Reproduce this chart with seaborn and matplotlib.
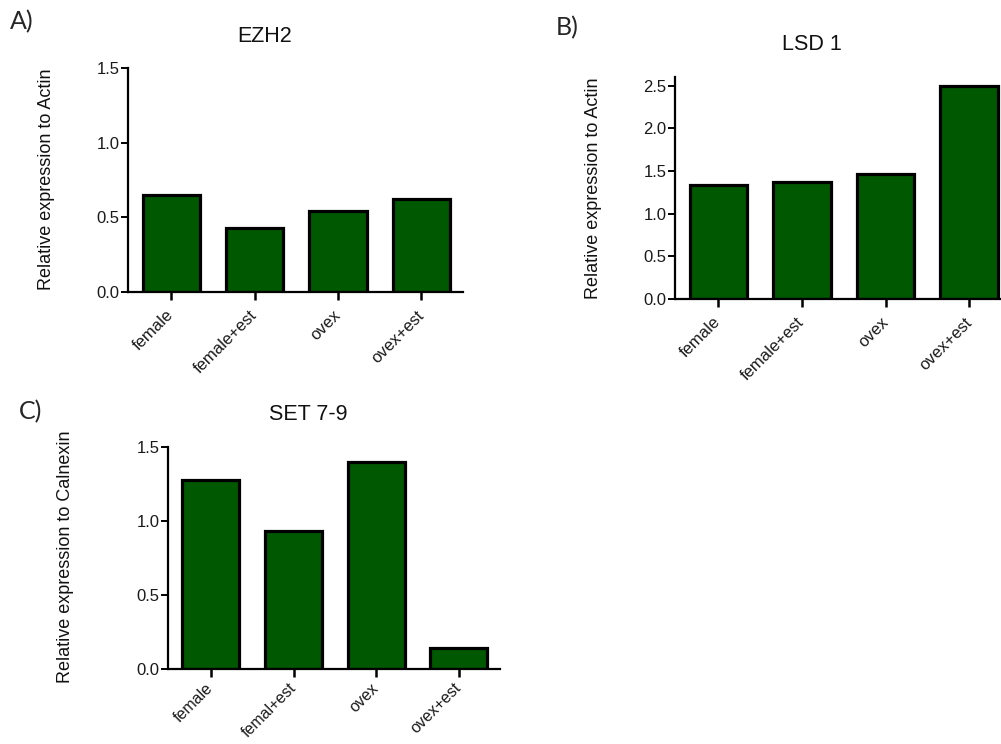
import matplotlib
matplotlib.use("Agg")
import matplotlib.pyplot as plt
import seaborn as sns
import pandas as pd

sns.set_theme(style="ticks")
plt.rcParams['font.family'] = ['Liberation Sans', 'DejaVu Sans']

cats_a = ["female", "female+est", "ovex", "ovex+est"]
vals_a = [0.65, 0.43, 0.54, 0.62]
cats_b = ["female", "female+est", "ovex", "ovex+est"]
vals_b = [1.34, 1.37, 1.46, 2.50]
cats_c = ["female", "femal+est", "ovex", "ovex+est"]
vals_c = [1.28, 0.93, 1.40, 0.14]

titles = ["EZH2", "LSD 1", "SET 7-9"]
ylabels = ["Relative expression to Actin", "Relative expression to Actin",
           "Relative expression to Calnexin"]
panel_labels = ["A)", "B)", "C)"]
yticks_a = [0.0, 0.5, 1.0, 1.5]
yticks_b = [0.0, 0.5, 1.0, 1.5, 2.0, 2.5]
yticks_c = [0.0, 0.5, 1.0, 1.5]

W, H = 1001, 744
fig = plt.figure(figsize=(W / 100, H / 100), dpi=100)
fig.patch.set_facecolor("white")

BAR = "#005800"

def px_axes(l, r, t, b):
    return fig.add_axes([l / W, 1 - b / H, (r - l) / W, (b - t) / H])

def panel(ax, cats, vals, yticks, ymax, xpad=9, xfs=12):
    df = pd.DataFrame({"cat": cats, "val": vals})
    sns.barplot(data=df, x="cat", y="val", ax=ax, color=BAR, saturation=1,
                edgecolor="black", linewidth=2.3, width=0.69)
    ax.set_facecolor("none")
    ax.set_xlim(-0.52, 3.5)
    ax.set_ylim(0, ymax)
    ax.set_yticks(yticks)
    ax.set_yticklabels([f"{v:.1f}" for v in yticks], fontsize=12, color="#1a1a1a")
    ax.set_xticks(range(len(cats)))
    ax.set_xticklabels(cats, rotation=45, ha="right", va="center",
                       rotation_mode="anchor", fontsize=xfs, color="#1a1a1a")
    ax.set_xlabel("")
    ax.set_ylabel("")
    for s in ["top", "right"]:
        ax.spines[s].set_visible(False)
    for s in ["left", "bottom"]:
        ax.spines[s].set_linewidth(1.6)
        ax.spines[s].set_color("black")
    ax.tick_params(axis="y", length=5, width=1.4, pad=1, color="black")
    ax.tick_params(axis="x", length=6, width=1.8, pad=xpad, color="black")

axA = px_axes(128, 463, 68, 292)
panel(axA, cats_a, vals_a, yticks_a, 1.5)
axB = px_axes(675, 1011, 77, 299)
panel(axB, cats_b, vals_b, yticks_b, 2.6)
axC = px_axes(168, 500, 447, 669)
panel(axC, cats_c, vals_c, yticks_c, 1.5, xpad=6, xfs=11.5)

def ftext(x, y, s, **kw):
    fig.text(x / W, 1 - y / H, s, ha="center", va="center", **kw)

# titles
ftext(265, 36, titles[0], fontsize=15.5, color="#111111")
ftext(812, 45, titles[1], fontsize=15.5, color="#111111")
ftext(308, 415, titles[2], fontsize=15.5, color="#111111")
# y labels
ftext(47, 179, ylabels[0], fontsize=13, rotation=90, color="#111111")
ftext(594, 188, ylabels[1], fontsize=13, rotation=90, color="#111111")
ftext(65, 557, ylabels[2], fontsize=13, rotation=90, color="#111111")
# panel labels
ftext(22, 22, panel_labels[0], fontsize=18, family=["Lato", "DejaVu Sans"])
ftext(567, 28, panel_labels[1], fontsize=18, family=["Lato", "DejaVu Sans"])
ftext(31, 412, panel_labels[2], fontsize=18, family=["Lato", "DejaVu Sans"])

fig.savefig("out.png", dpi=100)
